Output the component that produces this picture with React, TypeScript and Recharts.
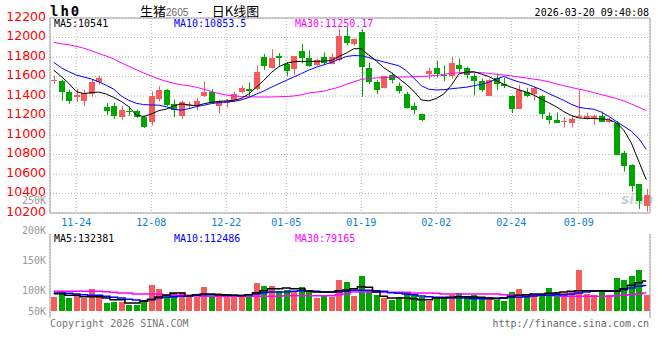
import { Bar, CartesianGrid, ComposedChart, Line, ReferenceLine, XAxis, YAxis } from "recharts";

const dates = [
  "11-19", "11-20", "11-21", "11-24", "11-25", "11-26", "11-27", "11-28", "12-01", "12-02",
  "12-03", "12-04", "12-05", "12-08", "12-09", "12-10", "12-11", "12-12", "12-15", "12-16",
  "12-17", "12-18", "12-19", "12-22", "12-23", "12-24", "12-25", "12-26", "12-29", "12-30",
  "12-31", "01-05", "01-06", "01-07", "01-08", "01-09", "01-12", "01-13", "01-14", "01-15",
  "01-16", "01-19", "01-20", "01-21", "01-22", "01-23", "01-26", "01-27", "01-28", "01-29",
  "01-30", "02-02", "02-03", "02-04", "02-05", "02-06", "02-09", "02-10", "02-11", "02-12",
  "02-13", "02-24", "02-25", "02-26", "02-27", "03-02", "03-03", "03-04", "03-05", "03-06",
  "03-09", "03-10", "03-11", "03-12", "03-13", "03-16", "03-17", "03-18", "03-19", "03-20",
];

const opens = [
  11555, 11557, 11437, 11386, 11345, 11420, 11540, 11287, 11301, 11184,
  11249, 11249, 11184, 11130, 11369, 11465, 11321, 11191, 11294, 11301,
  11398, 11443, 11299, 11330, 11357, 11436, 11470, 11470, 11798, 11692,
  11808, 11733, 11672, 11860, 11785, 11723, 11795, 11733, 11770, 12014,
  11932, 12055, 11689, 11545, 11480, 11614, 11504, 11419, 11295, 11213,
  11624, 11689, 11614, 11603, 11716, 11689, 11603, 11552, 11402, 11580,
  11521, 11402, 11268, 11439, 11419, 11402, 11196, 11155, 11131, 11128,
  11183, 11166, 11166, 11196, 11131, 11128, 10813, 10694, 10499, 10276,
];
const highs = [
  11608, 11567, 11465, 11475, 11465, 11574, 11608, 11328, 11328, 11301,
  11294, 11260, 11198, 11448, 11499, 11472, 11362, 11352, 11345, 11379,
  11552, 11470, 11357, 11370, 11443, 11511, 11538, 11716, 11832, 11880,
  11839, 11750, 11808, 11932, 11870, 11785, 11846, 11836, 12085, 12109,
  11990, 12085, 11743, 11562, 11605, 11641, 11538, 11443, 11333, 11220,
  11692, 11761, 11716, 11802, 11785, 11700, 11631, 11579, 11579, 11631,
  11583, 11405, 11514, 11480, 11497, 11412, 11231, 11231, 11183, 11196,
  11456, 11231, 11207, 11241, 11173, 11138, 10837, 10700, 10499, 10447,
];
const lows = [
  11523, 11352, 11321, 11338, 11294, 11390, 11516, 11208, 11164, 11157,
  11198, 11174, 11072, 11096, 11345, 11294, 11184, 11164, 11277, 11253,
  11391, 11323, 11220, 11280, 11354, 11425, 11391, 11460, 11668, 11682,
  11709, 11607, 11614, 11733, 11699, 11709, 11716, 11723, 11760, 11921,
  11915, 11393, 11521, 11419, 11478, 11528, 11425, 11271, 11213, 11142,
  11569, 11590, 11552, 11579, 11631, 11579, 11408, 11443, 11402, 11460,
  11480, 11224, 11268, 11388, 11354, 11166, 11114, 11121, 11077, 11077,
  11180, 11155, 11104, 11131, 11128, 10796, 10625, 10420, 10242, 10215,
];
const closes = [
  11565, 11437, 11345, 11407, 11431, 11540, 11585, 11243, 11198, 11260,
  11232, 11184, 11082, 11396, 11458, 11304, 11253, 11335, 11311, 11352,
  11443, 11333, 11347, 11345, 11419, 11484, 11453, 11648, 11709, 11791,
  11791, 11658, 11808, 11785, 11709, 11767, 11740, 11795, 12014, 11945,
  11983, 11699, 11545, 11460, 11603, 11562, 11453, 11278, 11254, 11152,
  11655, 11624, 11603, 11740, 11675, 11620, 11555, 11460, 11569, 11520,
  11504, 11265, 11463, 11395, 11487, 11214, 11149, 11128, 11145, 11166,
  11196, 11190, 11190, 11131, 11155, 10796, 10683, 10478, 10328, 10386,
];

const ma5 = [
  11665, 11600, 11530, 11445, 11425, 11435, 11440, 11420, 11385, 11345,
  11290, 11205, 11190, 11215, 11250, 11265, 11300, 11318, 11310, 11300,
  11320, 11335, 11345, 11350, 11355, 11375, 11420, 11490, 11560, 11640,
  11700, 11735, 11752, 11755, 11755, 11755, 11758, 11765, 11805, 11840,
  11885, 11885, 11820, 11760, 11690, 11640, 11580, 11520, 11450, 11360,
  11350, 11375, 11420, 11510, 11625, 11645, 11650, 11625, 11600, 11560,
  11520, 11490, 11464, 11440, 11410, 11368, 11330, 11290, 11240, 11200,
  11175, 11170, 11168, 11165, 11160, 11125, 11050, 10920, 10730, 10541,
];
const ma10 = [
  11745, 11690, 11650, 11615, 11595, 11575, 11545, 11510, 11470, 11400,
  11355, 11325, 11312, 11308, 11306, 11290, 11262, 11255, 11270, 11290,
  11305, 11322, 11332, 11338, 11345, 11360, 11385, 11420, 11450, 11490,
  11525, 11560, 11595, 11630, 11665, 11695, 11720, 11745, 11775, 11805,
  11815, 11812, 11795, 11770, 11750, 11730, 11710, 11660, 11585, 11505,
  11470, 11462, 11465, 11475, 11482, 11490, 11505, 11520, 11540, 11575,
  11600, 11570, 11545, 11525, 11495, 11465, 11425, 11390, 11355, 11315,
  11285, 11272, 11265, 11235, 11190, 11140, 11090, 11040, 10965, 10853.5,
];
const ma30 = [
  11950, 11935, 11925, 11910, 11890, 11865, 11835, 11810, 11780, 11740,
  11705, 11670, 11635, 11605, 11575, 11550, 11530, 11515, 11505, 11490,
  11470, 11445, 11425, 11410, 11400, 11395, 11392, 11390, 11390, 11390,
  11392, 11395, 11400, 11412, 11430, 11440, 11450, 11470, 11490, 11520,
  11545, 11570, 11580, 11585, 11590, 11592, 11594, 11595, 11597, 11600,
  11605, 11610, 11622, 11632, 11638, 11642, 11642, 11640, 11632, 11622,
  11615, 11606, 11595, 11585, 11573, 11562, 11545, 11525, 11505, 11488,
  11470, 11455, 11435, 11415, 11395, 11375, 11350, 11318, 11285, 11250.17,
];

const volumes = [
  60800, 86100, 56500, 65200, 56300, 96400, 63700, 34100, 38600, 40000,
  25200, 26700, 41500, 114200, 96400, 66700, 78600, 83000, 68200, 60800,
  105300, 63800, 78600, 71200, 63900, 63700, 63800, 123100, 109700, 109600,
  86000, 93400, 86100, 105300, 89000, 56400, 66700, 60800, 136400, 127500,
  65300, 155700, 86000, 69700, 56400, 47500, 60800, 78600, 71200, 60800,
  43000, 60800, 60900, 71200, 78600, 63800, 71200, 59300, 59400, 47500,
  43000, 83000, 96400, 66700, 74200, 65300, 100800, 83000, 78600, 86000,
  180900, 74200, 68200, 93400, 69700, 145300, 136400, 155700, 180900, 69700,
];
const volMa5 = [
  75600, 75600, 68200, 68200, 62300, 62300, 62300, 56400, 48900, 48900,
  34100, 34100, 41500, 48900, 60800, 68200, 78600, 78600, 66700, 71200,
  74200, 74200, 71200, 68200, 68200, 66700, 71200, 80000, 89000, 97900,
  97900, 100800, 97900, 97900, 86000, 83000, 83000, 83000, 89000, 91900,
  97900, 106800, 103800, 83000, 63800, 56400, 56400, 56400, 53400, 48900,
  48900, 56400, 56400, 59300, 62300, 62300, 60800, 59300, 56400, 53400,
  56400, 63800, 68200, 71200, 74200, 74200, 77100, 78600, 83000, 86000,
  89000, 89000, 89000, 89000, 86000, 86000, 97900, 112700, 124600, 132381,
];
const volMa10 = [
  78600, 78600, 77100, 74200, 71200, 68200, 68200, 63800, 59300, 56400,
  50400, 47500, 44500, 50400, 56400, 59300, 62300, 63800, 65300, 68200,
  71200, 71200, 71200, 71200, 68200, 68200, 71200, 74200, 80000, 83000,
  83000, 83000, 86000, 89000, 89000, 86000, 83000, 83000, 83000, 86000,
  90500, 90500, 90500, 89000, 86000, 80000, 77100, 74200, 71200, 65300,
  62300, 59300, 59300, 56400, 56400, 56400, 53400, 53400, 53400, 56400,
  56400, 59300, 59300, 62300, 65300, 68200, 68200, 71200, 71200, 74200,
  78600, 83000, 86000, 89000, 89000, 89000, 93400, 100800, 108300, 112486,
];
const volMa30 = [
  86000, 86000, 86000, 86000, 86000, 86000, 86000, 84000, 81600, 78600,
  78600, 74200, 74200, 74200, 74200, 71200, 68200, 68200, 68200, 65300,
  63800, 63800, 63800, 63800, 63800, 63800, 63800, 63800, 63800, 63800,
  63800, 66700, 66700, 66700, 66700, 66700, 66700, 66700, 71200, 74200,
  83000, 83000, 83000, 83000, 81600, 81600, 81600, 81600, 78600, 78600,
  78600, 77100, 74200, 74200, 74200, 74200, 74200, 74200, 74200, 74200,
  71200, 71200, 68200, 68200, 68200, 68200, 68200, 66700, 63800, 63800,
  63800, 63800, 63800, 63800, 63800, 66700, 68200, 71200, 74200, 79165,
];

const dateTicks = ["11-24", "12-08", "12-22", "01-05", "01-19", "02-02", "02-24", "03-09"];
const priceTicks = [10200, 10400, 10600, 10800, 11000, 11200, 11400, 11600, 11800, 12000, 12200];
const volLabelTicks = [50000, 100000, 150000, 200000, 250000];

const RED = "#f65b5b";
const GREEN = "#00a600";
const AXIS = "#a0a0a0";
const GRID = "#b4b4b4";
const MONO = "DejaVu Sans Mono";

const rows = dates.map((d, i) => ({
  date: d,
  open: opens[i],
  high: highs[i],
  low: lows[i],
  close: closes[i],
  range: [lows[i], highs[i]],
  ma5: ma5[i],
  ma10: ma10[i],
  ma30: ma30[i],
  volume: volumes[i],
  vma5: volMa5[i],
  vma10: volMa10[i],
  vma30: volMa30[i],
}));

const last = rows.length - 1;

function Candle(props: any) {
  const { x, y, width, height, payload } = props;
  const { open, close, high, low } = payload;
  const color = close >= open ? RED : GREEN;
  const left = Math.round(x);
  const cx = left + Math.floor(width / 2) + 0.5;
  const span = high - low;
  const k = span > 0 ? height / span : 0;
  const top = y + (high - Math.max(open, close)) * k;
  const bot = y + (high - Math.min(open, close)) * k;
  return (
    <g>
      <line x1={cx} x2={cx} y1={y} y2={y + Math.max(height, 1)} stroke={color} strokeWidth={1} />
      <rect x={left} y={top} width={Math.round(width)} height={Math.max(1, bot - top)} fill={color} shapeRendering="crispEdges" />
    </g>
  );
}

function VolBar(props: any) {
  const { x, y, width, height, payload } = props;
  const color = payload.close >= payload.open ? RED : GREEN;
  return <rect x={Math.round(x)} y={y} width={Math.round(width)} height={height} fill={color} shapeRendering="crispEdges" />;
}

function PriceTick({ x, y, payload }: any) {
  return (
    <text x={x - 4} y={y} dy={2.5} textAnchor="end" fill="#ff0000" fontSize={12.5} fontFamily="DejaVu Sans">
      {payload.value}
    </text>
  );
}

function DateTick({ x, y, payload }: any) {
  return (
    <text x={x} y={y} dy={12.5} textAnchor="middle" fill="#0a7fd0" fontSize={10} fontFamily={MONO}>
      {payload.value}
    </text>
  );
}

function VolTick({ x, y, payload }: any) {
  // the lowest label is kept inside the volume panel
  const yy = Math.min(y, 121);
  return (
    <text x={x - 4} y={yy} dy={3.6} textAnchor="end" fill="#999999" fontSize={10} fontFamily={MONO}>
      {payload.value / 1000 + "K"}
    </text>
  );
}

export default function App() {
  return (
    <div style={{ position: "absolute", left: 0, top: 0, width: 660, height: 360, background: "#fff", overflow: "hidden" }}>
      <svg width={660} height={360} style={{ position: "absolute", left: 0, top: 0 }}>
        <text x={50} y={16} fontFamily={MONO} fontWeight="bold" fontSize={14} letterSpacing={2} fill="#000">
          lh0
        </text>
        <text x={140} y={15.5} fontSize={13} fontFamily="Noto Sans CJK SC" fill="#000">
          <tspan>生猪</tspan>
          <tspan fontFamily="Liberation Sans" fontSize={10} fill="#666">2605</tspan>
          <tspan fontFamily={MONO}> - </tspan>
          <tspan>日K线图</tspan>
        </text>
        <text x={649} y={15.5} textAnchor="end" fontFamily={MONO} fontSize={10} fill="#000">
          2026-03-20 09:40:08
        </text>
        <text x={54} y={27} fontFamily={MONO} fontSize={10} fill="#000">{"MA5:" + ma5[last]}</text>
        <text x={174} y={27} fontFamily={MONO} fontSize={10} fill="#0000ff">{"MA10:" + ma10[last]}</text>
        <text x={295} y={27} fontFamily={MONO} fontSize={10} fill="#ff00ff">{"MA30:" + ma30[last]}</text>
        <text x={54} y={242} fontFamily={MONO} fontSize={10} fill="#000">{"MA5:" + volMa5[last]}</text>
        <text x={174} y={242} fontFamily={MONO} fontSize={10} fill="#0000ff">{"MA10:" + volMa10[last]}</text>
        <text x={295} y={242} fontFamily={MONO} fontSize={10} fill="#ff00ff">{"MA30:" + volMa30[last]}</text>
        <text x={50} y={327} fontFamily={MONO} fontSize={10} fill="#777">Copyright 2026 SINA.COM</text>
        <text x={649} y={327} textAnchor="end" fontFamily={MONO} fontSize={10} fill="#666">http://finance.sina.com.cn</text>
        <text x={621} y={204} fontFamily="DejaVu Sans" fontStyle="italic" fontWeight="bold" fontSize={14} fill="#d0d0d0">
          sina
        </text>
      </svg>

      <div style={{ position: "absolute", left: 0, top: 0 }}>
        <ComposedChart width={660} height={233} data={rows} margin={{ top: 18, right: 0, bottom: 0, left: 0 }}>
          <CartesianGrid stroke={GRID} strokeDasharray="1 2" />
          <XAxis
            dataKey="date"
            ticks={dateTicks}
            interval={0}
            height={20}
            tickSize={0}
            tickMargin={0}
            tickLine={false}
            axisLine={{ stroke: AXIS }}
            tick={<DateTick />}
          />
          <YAxis
            domain={[10200, 12200]}
            ticks={priceTicks}
            interval={0}
            width={50}
            tickSize={0}
            tickMargin={0}
            tickLine={false}
            axisLine={{ stroke: AXIS }}
            tick={<PriceTick />}
          />
          <YAxis yAxisId="right" orientation="right" width={10} tick={false} tickLine={false} axisLine={{ stroke: AXIS }} />
          <ReferenceLine y={12200} stroke={AXIS} />
          <Bar dataKey="range" barSize={6} shape={<Candle />} isAnimationActive={false} />
          <Line type="linear" dataKey="ma30" stroke="#ff00ff" strokeWidth={1} dot={false} isAnimationActive={false} />
          <Line type="linear" dataKey="ma10" stroke="#0000ff" strokeWidth={1} dot={false} isAnimationActive={false} />
          <Line type="linear" dataKey="ma5" stroke="#000000" strokeWidth={1} dot={false} isAnimationActive={false} />
        </ComposedChart>
      </div>

      <div style={{ position: "absolute", left: 0, top: 190 }}>
        <ComposedChart width={660} height={130} data={rows} margin={{ top: 44, right: 0, bottom: 2, left: 0 }}>
          <CartesianGrid stroke={GRID} strokeDasharray="1 2" horizontal={false} />
          <XAxis dataKey="date" ticks={dateTicks} interval={0} height={0} tick={false} tickLine={false} axisLine={{ stroke: AXIS }} />
          <YAxis
            domain={[54500, 194500]}
            allowDataOverflow
            ticks={volLabelTicks}
            interval={0}
            width={50}
            tickSize={0}
            tickMargin={0}
            tickLine={false}
            axisLine={{ stroke: AXIS }}
            tick={<VolTick />}
          />
          <YAxis yAxisId="vol" domain={[-32500, 341300]} allowDataOverflow hide />
          <YAxis yAxisId="grid" domain={[0, 4]} hide />
          <YAxis yAxisId="right" orientation="right" width={10} tick={false} tickLine={false} axisLine={{ stroke: AXIS }} />
          <ReferenceLine yAxisId="grid" y={1} stroke={GRID} strokeDasharray="1 2" />
          <ReferenceLine yAxisId="grid" y={2} stroke={GRID} strokeDasharray="1 2" />
          <ReferenceLine yAxisId="grid" y={3} stroke={GRID} strokeDasharray="1 2" />
          <ReferenceLine yAxisId="grid" y={4} stroke={AXIS} />
          <Bar yAxisId="vol" dataKey="volume" barSize={6} shape={<VolBar />} isAnimationActive={false} />
          <Line yAxisId="vol" type="step" dataKey="vma30" stroke="#ff00ff" strokeWidth={1.5} dot={false} isAnimationActive={false} />
          <Line yAxisId="vol" type="step" dataKey="vma10" stroke="#0000ff" strokeWidth={1.5} dot={false} isAnimationActive={false} />
          <Line yAxisId="vol" type="step" dataKey="vma5" stroke="#000000" strokeWidth={1.5} dot={false} isAnimationActive={false} />
        </ComposedChart>
      </div>
    </div>
  );
}
